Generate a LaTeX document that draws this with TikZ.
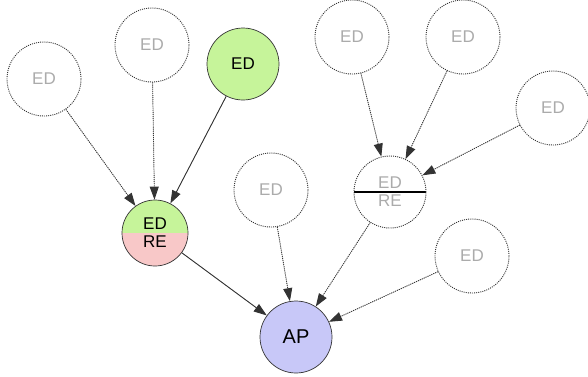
\documentclass[tikz,border=0pt]{standalone}
\usepackage{fontspec}
\setmainfont{Liberation Sans}
\usetikzlibrary{arrows.meta}
\definecolor{edgreen}{HTML}{C6F49A}
\definecolor{repink}{HTML}{F8C8C8}
\definecolor{aplav}{HTML}{C8C8F8}
\definecolor{ghost}{HTML}{ABABAB}
\definecolor{rim}{HTML}{333333}
\begin{document}
\begin{tikzpicture}[x=1pt,y=-1pt,
  every node/.style={font=\fontsize{17}{22}\selectfont},
  dots/.style={line width=0.9pt, dash pattern=on 1pt off 1.1pt},
  ghostnode/.style={circle, draw=rim, dots, minimum size=74pt, inner sep=0pt, text=ghost},
  livenode/.style={circle, draw=rim, line width=0.7pt, minimum size=72pt, inner sep=0pt, text=black},
  tip/.style={-{Triangle[length=13pt,width=9pt]}, draw=rim, fill=rim},
  weak/.style={tip, dots},
  strong/.style={tip, line width=0.9pt}]
\useasboundingbox (0,0) rectangle (588,376);

% evidence nodes on the left branch
\node[ghostnode] (e1) at (44,79) {ED};
\node[ghostnode] (e2) at (152,45) {ED};
\node[livenode, fill=edgreen] (e3) at (243,64) {ED};

% combined node, green above and pink below
\node[livenode, minimum size=66pt, align=center,
  path picture={
    \fill[edgreen] (path picture bounding box.north west) rectangle (path picture bounding box.east);
    \fill[repink] (path picture bounding box.west) rectangle (path picture bounding box.south east);
  }] (L) at (155,233) {ED\\[-4pt]RE};

% evidence nodes on the right branch
\node[ghostnode] (e4) at (352,37) {ED};
\node[ghostnode] (e5) at (463,37) {ED};
\node[ghostnode] (e6) at (553,108) {ED};

% combined node with a dividing line
\node[ghostnode, minimum size=72pt, align=center,
  path picture={
    \draw[black, solid, line width=1.1pt] (path picture bounding box.west) -- (path picture bounding box.east);
  }] (R) at (390,192) {ED\\[-4pt]RE};

\node[ghostnode] (e7) at (271,190) {ED};
\node[ghostnode] (e8) at (472,256) {ED};

% target node
\node[livenode, fill=aplav, font=\fontsize{20}{24}\selectfont] (ap) at (296,337) {AP};

% connectors
\draw[weak] (e1) -- (L);
\draw[weak] (e2) -- (L);
\draw[strong] (e3) -- (L);
\draw[strong] (L) -- (ap);

\draw[weak] (e4) -- (R);
\draw[weak] (e5) -- (R);
\draw[weak] (e6) -- (R);

\draw[weak] (e7) -- (ap);
\draw[weak] (R) -- (ap);
\draw[weak] (e8) -- (ap);
\end{tikzpicture}
\end{document}
